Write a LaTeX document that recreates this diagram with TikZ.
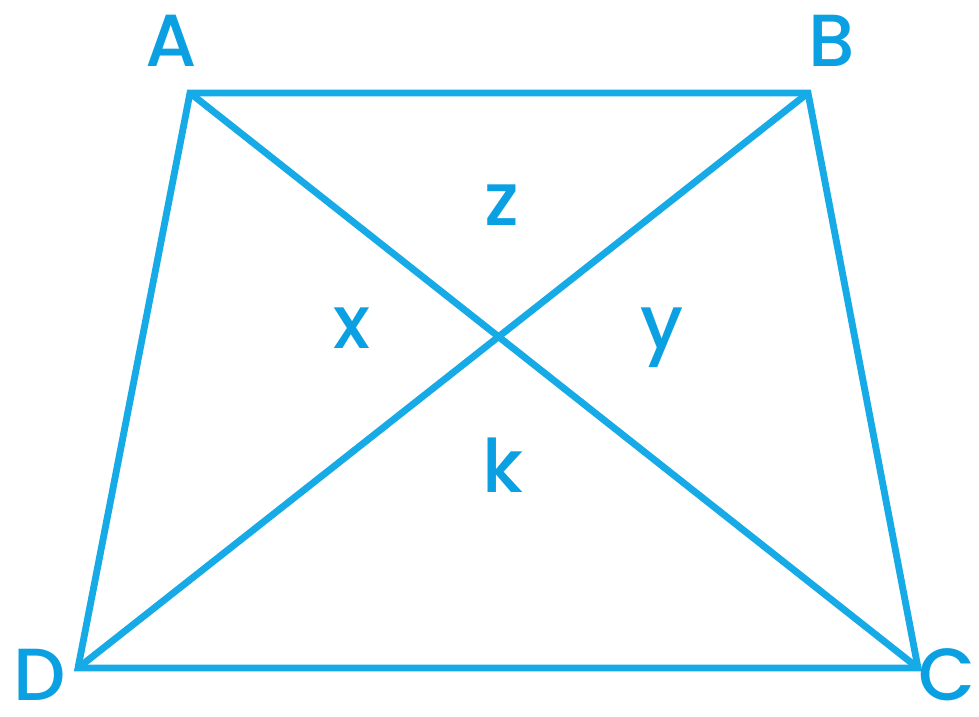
\documentclass[tikz,border=0pt]{standalone}
\usepackage{fontspec}
\setmainfont{Poppins}[UprightFont={* Medium}]
\definecolor{edgeblue}{RGB}{22,170,230}
\definecolor{textblue}{RGB}{10,160,225}
\begin{document}
\begin{tikzpicture}[x=0.02cm,y=-0.02cm,
  edge/.style={draw=edgeblue,line width=3.9pt,line join=miter},
  lbl/.style={text=textblue,inner sep=0pt,anchor=base,font=\fontsize{42}{50}\selectfont}]
\useasboundingbox (0,0) rectangle (979,716);
\coordinate (A) at (190,93);
\coordinate (B) at (808,93);
\coordinate (C) at (918,668);
\coordinate (D) at (78,668);
\draw[edge] (A) -- (B) -- (C) -- (D) -- cycle;
\draw[edge] (A) -- (C);
\draw[edge] (B) -- (D);
\node[lbl] (la) at (171,67) {A};
\node[lbl] (lb) at (832,67) {B};
\node[lbl] (lc) at (947,700) {C};
\node[lbl] (ld) at (40,700) {D};
\node[lbl] (lz) at (502,225) {z};
\node[lbl] (lx) at (352,348) {x};
\node[lbl] (ly) at (662,348) {y};
\node[lbl] (lk) at (503,492) {k};
\end{tikzpicture}
\end{document}
